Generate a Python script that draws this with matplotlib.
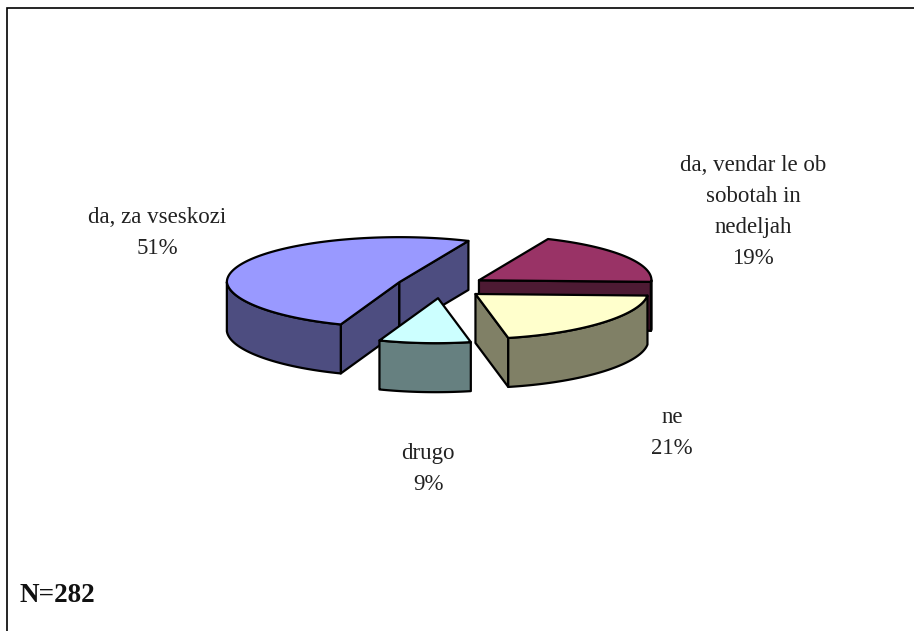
import numpy as np
import matplotlib
matplotlib.use("Agg")
import matplotlib.pyplot as plt
from matplotlib.patches import Polygon

# Data (drawn clockwise, starting from the first slice)
categories = ["da, za vseskozi", "da, vendar le ob\nsobotah in\nnedeljah", "ne", "drugo"]
shares = [51, 19, 21, 9]
top_colors = ["#9999FF", "#993366", "#FFFFCC", "#CCFFFF"]
side_colors = ["#4D4D80", "#4D1A33", "#808066", "#668080"]
paint_order = [1, 0, 2, 3]

# Pie geometry in pixels
W, H = 914, 631
cx, cy = 441.0, 286.5
rx, ry = 172.5, 45.0
depth = 49.0
explode = 0.26
start_angle = 200.0  # clockwise from the back of the pie
front_taper = 0.05   # the front of the rim narrows slightly
front_skew = 2.5     # and leans slightly to the left
edge = "black"
lw = 1.6

fig = plt.figure(figsize=(W / 100, H / 100), dpi=100, facecolor="white")
ax = fig.add_axes([0, 0, 1, 1])
ax.set_xlim(0, W)
ax.set_ylim(H, 0)
ax.axis("off")

# the frame is only visible along the top and the left
ax.plot([7, 7, W], [H, 7.5, 7.5], color="black", lw=1.2, solid_joinstyle="miter")


def point(theta, ax0, ay0, r=1.0):
    t = np.deg2rad(theta)
    c = np.cos(t)
    front = np.minimum(c, 0)
    k = 1 + front_taper * front
    return ax0 + r * (rx * np.sin(t) * k + front_skew * front), ay0 - r * ry * c


def draw_poly(pts, fc, z):
    ax.add_patch(Polygon(pts, closed=True, fc=fc, ec=edge, lw=lw, joinstyle="round", zorder=z))


angles = 360.0 * np.array(shares) / sum(shares)
starts = start_angle + np.concatenate(([0], np.cumsum(angles)[:-1]))

z = 2
for i in paint_order:
    a0, a1 = starts[i], starts[i] + angles[i]
    mid = (a0 + a1) / 2
    t_mid = np.deg2rad(mid)
    ox = cx + explode * rx * np.sin(t_mid)
    oy = cy - explode * ry * np.cos(t_mid)
    # cut faces that look towards the viewer
    for ang, sign in ((a0, -1), (a1, 1)):
        if sign * np.sin(np.deg2rad(ang)) > 0:
            px, py = point(ang, ox, oy)
            draw_poly([(ox, oy), (px, py), (px, py + depth), (ox, oy + depth)], side_colors[i], z)
            z += 1
    # outer wall: the parts of the rim on the front half
    for k in (0, 1):
        lo = max(a0, 90 + 360 * k)
        hi = min(a1, 270 + 360 * k)
        if hi > lo:
            th = np.linspace(lo, hi, 60)
            xs, ys = point(th, ox, oy)
            pts = np.column_stack([np.r_[xs, xs[::-1]], np.r_[ys, ys[::-1] + depth]])
            draw_poly(pts, side_colors[i], z)
            z += 1
    # top
    th = np.linspace(a0, a1, 120)
    xs, ys = point(th, ox, oy)
    draw_poly(np.column_stack([np.r_[ox, xs], np.r_[oy, ys]]), top_colors[i], z)
    z += 1

label_pos = [(157, 233), (753, 212), (672, 433), (428, 469)]
for c, s, (x, y) in zip(categories, shares, label_pos):
    ax.text(x, y, f"{c}\n{s}%", ha="center", va="center", family="Liberation Serif",
            fontsize=16.5, linespacing=1.62, color="#222222", zorder=50)
ax.text(19, 596, "N=282", ha="left", va="center", family="Liberation Serif",
        fontsize=19.5, fontweight="bold", color="#111111", zorder=50)

fig.savefig("out.png", dpi=100, facecolor="white")
